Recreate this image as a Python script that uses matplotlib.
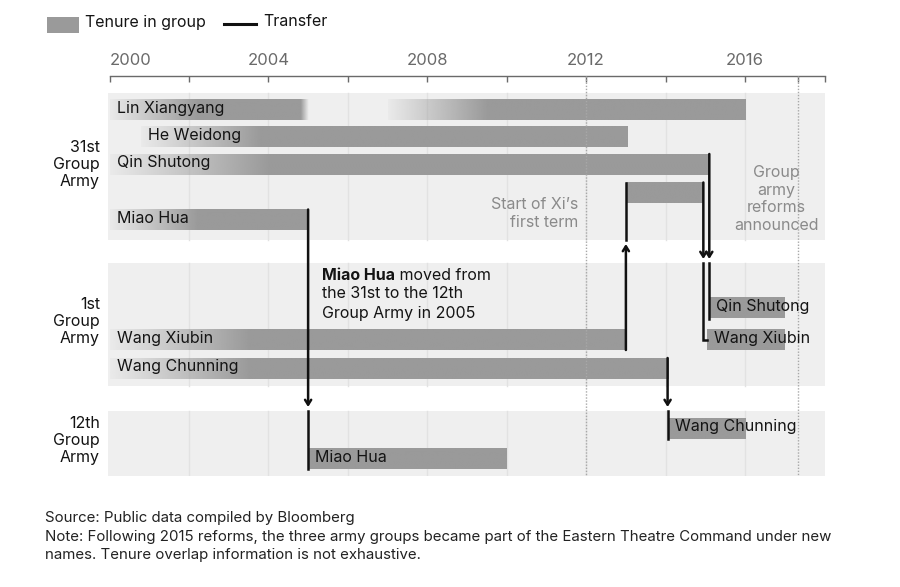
import numpy as np
import matplotlib
matplotlib.use("Agg")
import matplotlib.pyplot as plt
from matplotlib.patches import Rectangle
from matplotlib.lines import Line2D
from matplotlib.colors import to_rgb

plt.rcParams["font.family"] = ["Inter", "DejaVu Sans"]

# ---- data ----
groups = ["31st", "1st", "12th"]
group_labels = ["31st\nGroup\nArmy", "1st\nGroup\nArmy", "12th\nGroup\nArmy"]

bar_person = ["Lin Xiangyang", "Lin Xiangyang", "He Weidong", "Qin Shutong", "Wang Xiubin", "Miao Hua",
              "Qin Shutong", "Wang Xiubin", "Wang Xiubin", "Wang Chunning",
              "Wang Chunning", "Miao Hua"]
bar_group = ["31st", "31st", "31st", "31st", "31st", "31st",
             "1st", "1st", "1st", "1st",
             "12th", "12th"]
bar_start = [2000, 2007, 2000.8, 2000, 2013.0, 2000,
             2015.1, 2000, 2015.05, 2000,
             2014.05, 2005]
bar_end = [2005, 2016, 2013.05, 2015.1, 2014.95, 2005,
           2017, 2013.0, 2017, 2014.05,
           2016, 2010]
bar_labelled = [True, False, True, True, False, True,
                True, True, True, True,
                True, True]

# transfers: person, year, from group, to group
tr_person = ["Miao Hua", "Wang Xiubin", "Wang Xiubin", "Qin Shutong", "Wang Chunning"]
tr_year = [2005, 2013.0, 2014.95, 2015.1, 2014.05]
tr_from = ["31st", "1st", "31st", "31st", "1st"]
tr_to = ["12th", "31st", "1st", "1st", "12th"]

xi_term = 2012.0
reforms = 2017.33

# ---- layout (pixel-like units, y grows downward) ----
panel_top = {"31st": 93, "1st": 263, "12th": 411}
panel_bot = {"31st": 240, "1st": 386, "12th": 476}
row_y = {("31st", "Lin Xiangyang"): 109.5, ("31st", "He Weidong"): 137,
         ("31st", "Qin Shutong"): 164.5, ("31st", "Wang Xiubin"): 193,
         ("31st", "Miao Hua"): 220,
         ("1st", "Qin Shutong"): 308, ("1st", "Wang Xiubin"): 339.5,
         ("1st", "Wang Chunning"): 368.5,
         ("12th", "Wang Chunning"): 428.5, ("12th", "Miao Hua"): 458.5}
group_label_y = {"31st": 164.5, "1st": 321.5, "12th": 440.5}
# fade (years) per bar: in, out
fade_in = [2.2, 2.5, 3.0, 4.0, 0, 2.2, 0, 3.5, 0, 3.5, 0, 0]
fade_out = [0.2, 0, 0, 0, 0, 0, 0, 0, 0, 0, 0, 0]

BAR_H = 21
BAR_C = "#9a9a9a"
PANEL_C = "#efefef"
TXT = "#141414"
GREY_TXT = "#8a8a8a"
FS = 11.5
PX = 1 / 39.72  # one pixel in years

fig = plt.figure(figsize=(9, 5.87), dpi=100)
ax = fig.add_axes([109.5 / 900, 1 - 476 / 587, 715 / 900, 400 / 587])
ax.set_xlim(2000, 2018)
ax.set_ylim(476, 76)

# panels + grid
for g in groups:
    ax.add_patch(Rectangle((2000 - 1.5 * PX, panel_top[g]), 18 + 1.5 * PX,
                           panel_bot[g] - panel_top[g], color=PANEL_C, lw=0,
                           zorder=0, clip_on=False))
    for yr in range(2002, 2018, 2):
        ax.plot([yr, yr], [panel_top[g], panel_bot[g]], color="#e2e2e2", lw=1, zorder=1)

for xv in (xi_term, reforms):
    ax.plot([xv, xv], [76, 476], color="#a8a8a8", lw=1, ls=(0, (1, 1.2)), zorder=3)

# bars
rgb = to_rgb(BAR_C)
for i in range(len(bar_person)):
    x0, x1 = bar_start[i], bar_end[i]
    y = row_y[(bar_group[i], bar_person[i])]
    xs = np.linspace(x0, x1, 400)
    a = np.ones_like(xs)
    if fade_in[i] > 0:
        a = np.minimum(a, 0.06 + 0.94 * np.clip((xs - x0) / fade_in[i], 0, 1))
    if fade_out[i] > 0:
        a = np.minimum(a, np.clip((x1 - xs) / fade_out[i], 0, 1))
    img = np.zeros((1, len(xs), 4))
    img[..., :3] = rgb
    img[0, :, 3] = a
    ax.imshow(img, extent=(x0, x1, y + BAR_H / 2, y - BAR_H / 2), aspect="auto",
              interpolation="bilinear", zorder=2)
    if bar_labelled[i]:
        ax.text(x0 + 7 * PX, y - 1.5, bar_person[i], fontsize=FS, color=TXT,
                va="center", ha="left", zorder=6)

ax.set_xlim(2000, 2018)
ax.set_ylim(476, 76)

# transfers
for p, yr, g0, g1 in zip(tr_person, tr_year, tr_from, tr_to):
    y0 = row_y[(g0, p)]
    y1 = row_y[(g1, p)]
    if y1 > y0:  # downward
        start, tip = y0 - BAR_H / 2, panel_top[g1] - 4
        seg = [panel_top[g1], y1 + BAR_H / 2]
    else:
        start, tip = y0 + BAR_H / 2, panel_bot[g1] + 4
        seg = [panel_bot[g1], y1 - BAR_H / 2]
    ax.annotate("", xy=(yr, tip), xytext=(yr, start),
                arrowprops=dict(arrowstyle="->,head_length=0.35,head_width=0.22",
                                lw=1.8, color="#111111", shrinkA=0, shrinkB=0),
                zorder=5)
    # continuation inside the new group
    bs = [s for s, pp, gg in zip(bar_start, bar_person, bar_group) if pp == p and gg == g1 and s >= yr - 0.2]
    if y1 > y0 and bs and bs[0] > yr + 2 * PX:
        ax.plot([yr, yr, bs[0]], [seg[0], y1, y1], color="#111111", lw=1.8,
                zorder=5, solid_joinstyle="miter")
    else:
        ax.plot([yr, yr], seg, color="#111111", lw=1.8, zorder=5)

# x axis on top
ax.xaxis.tick_top()
ax.set_xticks([2000, 2004, 2008, 2012, 2016])
ax.set_xticks([2002, 2006, 2010, 2014, reforms, 2018], minor=True)
ax.tick_params(axis="x", which="both", direction="in", length=4.5, width=1,
               color="#6a6a6a", labelsize=12, labelcolor="#6a6a6a", pad=6)
ax.get_xticklabels()[0].set_ha("left")
ax.set_yticks([])
for s in ("left", "right", "bottom"):
    ax.spines[s].set_visible(False)
ax.spines["top"].set_color("#6a6a6a")
ax.spines["top"].set_linewidth(1)

# group labels
for g, lab in zip(groups, group_labels):
    ax.text(2000 - 9.5 * PX, group_label_y[g], lab, ha="right", va="center",
            fontsize=FS, color=TXT, linespacing=1.2, clip_on=False)

# annotations
t1 = ax.text(2000 + 212.5 * PX, 275.5, "Miao Hua", fontsize=FS, fontweight="bold",
             color=TXT, va="center", ha="left", zorder=6)
ax.annotate(" moved from", xy=(1, 0), xycoords=t1, fontsize=FS, color=TXT,
            va="bottom", ha="left", zorder=6)
ax.text(2000 + 212.5 * PX, 286, "the 31st to the 12th\nGroup Army in 2005",
        fontsize=FS, color=TXT, va="top", ha="left", linespacing=1.45, zorder=6)
ax.text(2000 + 468.5 * PX, 213.5, "Start of Xi\u2019s\nfirst term", fontsize=FS,
        color=GREY_TXT, ha="right", va="center", linespacing=1.25, zorder=6)
ax.text(2000 + 666.5 * PX, 199, "Group\narmy\nreforms\nannounced", fontsize=FS,
        color=GREY_TXT, ha="center", va="center", linespacing=1.22, zorder=6)

# legend
fig.add_artist(Rectangle((47 / 900, 1 - 33 / 587), 32 / 900, 16 / 587,
                         transform=fig.transFigure, color=BAR_C, lw=0))
fig.text(85 / 900, 1 - 22 / 587, "Tenure in group", fontsize=FS, color=TXT, va="center")
fig.add_artist(Line2D([224 / 900, 256 / 900], [1 - 23.5 / 587] * 2, lw=2.2,
                      color="#111111", transform=fig.transFigure))
fig.text(263 / 900, 1 - 22 / 587, "Transfer", fontsize=FS, color=TXT, va="center")

# footer
foot = ["Source: Public data compiled by Bloomberg",
        "Note: Following 2015 reforms, the three army groups became part of the Eastern Theatre Command under new",
        "names. Tenure overlap information is not exhaustive."]
for txt, yp in zip(foot, [518, 537, 555]):
    fig.text(45 / 900, 1 - yp / 587, txt, fontsize=10.8, color="#222222", va="center")

fig.savefig("out.png", dpi=100)
